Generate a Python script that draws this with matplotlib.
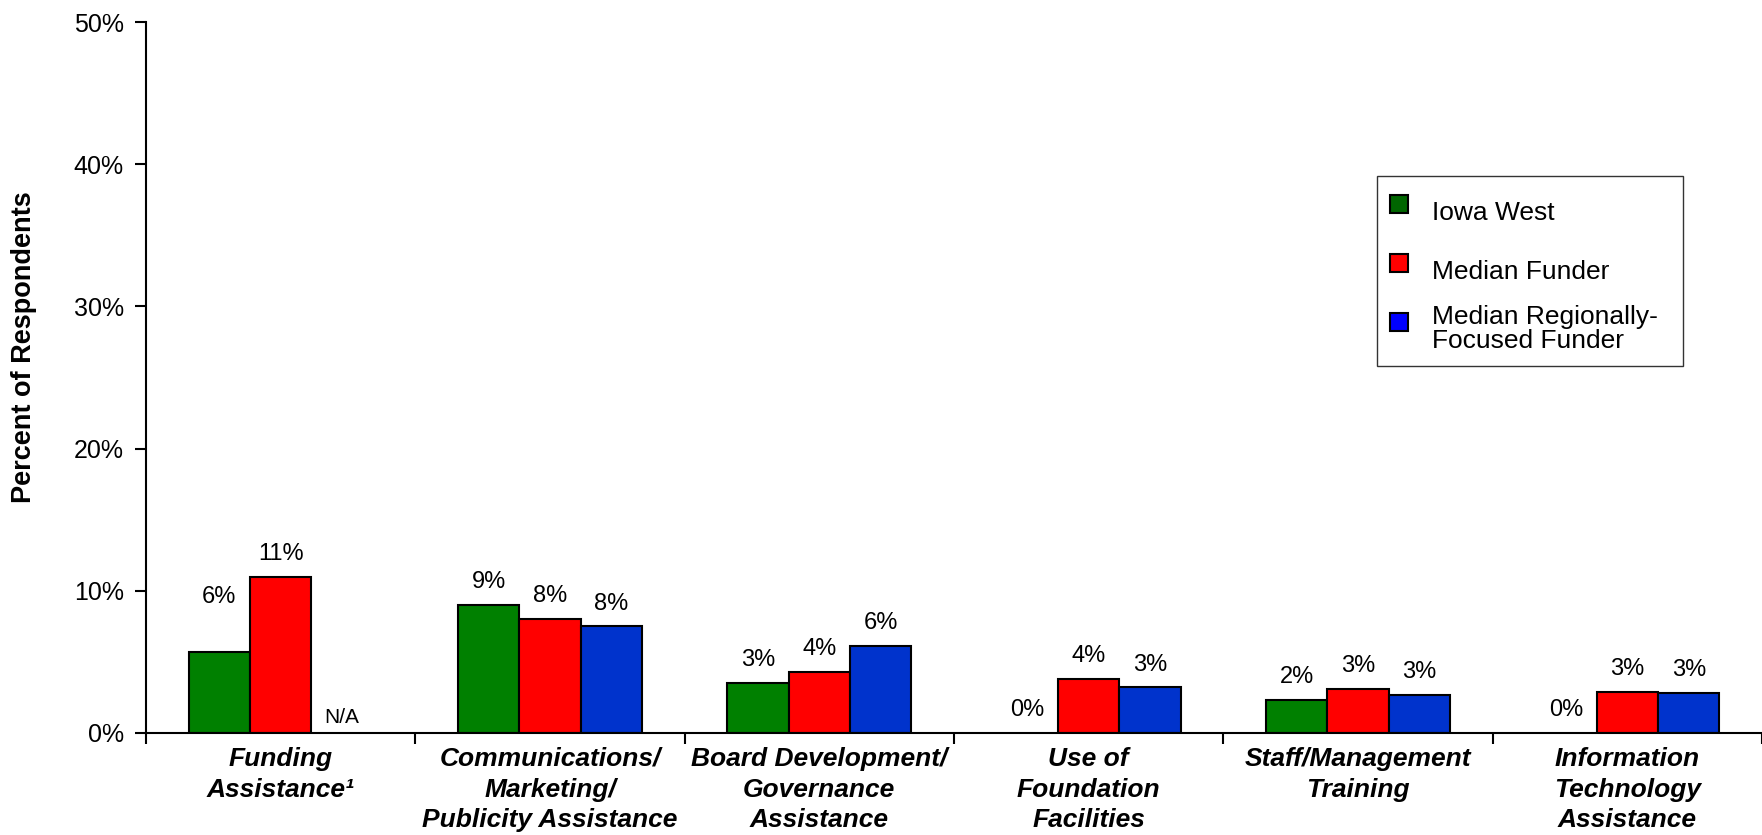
import numpy as np
import matplotlib
matplotlib.use('Agg')
import matplotlib.pyplot as plt
from matplotlib.lines import Line2D

plt.rcParams['font.family'] = ['Liberation Sans', 'DejaVu Sans']

categories = ['Funding\nAssistance\u00b9',
              'Communications/\nMarketing/\nPublicity Assistance',
              'Board Development/\nGovernance\nAssistance',
              'Use of\nFoundation\nFacilities',
              'Staff/Management\nTraining',
              'Information\nTechnology\nAssistance']

series_names = ['Iowa West', 'Median Funder', 'Median Regionally-\nFocused Funder']

# values in fraction of respondents (None = not available)
iowa_west = [0.057, 0.090, 0.035, 0.0, 0.023, 0.0]
median_funder = [0.110, 0.080, 0.043, 0.038, 0.031, 0.029]
median_regional = [None, 0.075, 0.061, 0.032, 0.027, 0.028]

iowa_labels = ['6%', '9%', '3%', '0%', '2%', '0%']
median_labels = ['11%', '8%', '4%', '4%', '3%', '3%']
regional_labels = ['N/A', '8%', '6%', '3%', '3%', '3%']

bar_colors = ['#008000', '#FF0000', '#0033CC']
legend_colors = ['#006600', '#FF0000', '#0000FF']

fig = plt.figure(figsize=(17.62, 8.35), dpi=100)
ax = fig.add_axes([146 / 1762, 102 / 835, 1 - 146 / 1762, 711 / 835])

x = np.arange(len(categories))
w = 0.228
all_vals = [iowa_west, median_funder, median_regional]
all_labels = [iowa_labels, median_labels, regional_labels]

for k in range(3):
    xs = x + (k - 1) * w
    for i in range(len(categories)):
        v = all_vals[k][i]
        lab = all_labels[k][i]
        if v is not None and v > 0:
            ax.bar(xs[i], v, width=w, color=bar_colors[k], edgecolor='black',
                   linewidth=1.5, zorder=2)
        yv = v if v is not None else 0
        off = 8.5
        if k == 0 and i == 0:
            off = 32  # reference has this label raised
        if v is None:
            ax.annotate(lab, (xs[i], 0), xytext=(0, 4), textcoords='offset points',
                        ha='center', va='bottom', fontsize=15)
        else:
            ax.annotate(lab, (xs[i], yv), xytext=(0, off), textcoords='offset points',
                        ha='center', va='bottom', fontsize=17)

ax.set_xlim(-0.5, len(categories) - 0.5)
ax.set_ylim(0, 0.5)
ax.set_yticks(np.arange(0, 0.51, 0.1))
ax.set_yticklabels(['%d%%' % round(t * 100) for t in np.arange(0, 0.51, 0.1)], fontsize=18)
ax.set_xticks(x)
ax.set_xticklabels(categories, fontsize=19, fontweight='bold', fontstyle='italic',
                   linespacing=1.35)
ax.set_xticks(np.arange(-0.5, len(categories), 1), minor=True)
ax.tick_params(axis='x', which='major', length=0, pad=10)
ax.tick_params(axis='x', which='minor', length=8, width=1.5, direction='out')
ax.tick_params(axis='y', length=8, width=1.5, direction='out', pad=8)

for s in ['top', 'right']:
    ax.spines[s].set_visible(False)
for s in ['left', 'bottom']:
    ax.spines[s].set_linewidth(1.5)

fig.text(24 / 1762, 1 - 347 / 835, 'Percent of Respondents', rotation=90,
         ha='center', va='center', fontsize=19.5, fontweight='bold')

handles = [Line2D([], [], marker='s', linestyle='none', markersize=13,
                  markerfacecolor=c, markeredgecolor='black', markeredgewidth=1.5)
           for c in legend_colors]
leg = fig.legend(handles, series_names, loc='upper left',
                 bbox_to_anchor=(1377 / 1762, 1 - 373 / 835, 306 / 1762, 197 / 835),
                 mode='expand', fontsize=19, frameon=True, fancybox=False,
                 edgecolor='black', handlelength=0.8, handleheight=2.45,
                 handletextpad=0.85, labelspacing=0.38, borderpad=0.45,
                 borderaxespad=0)
leg.get_frame().set_linewidth(1.0)
leg.get_texts()[2].set_linespacing(1.0)

fig.savefig('out.png', dpi=100)
